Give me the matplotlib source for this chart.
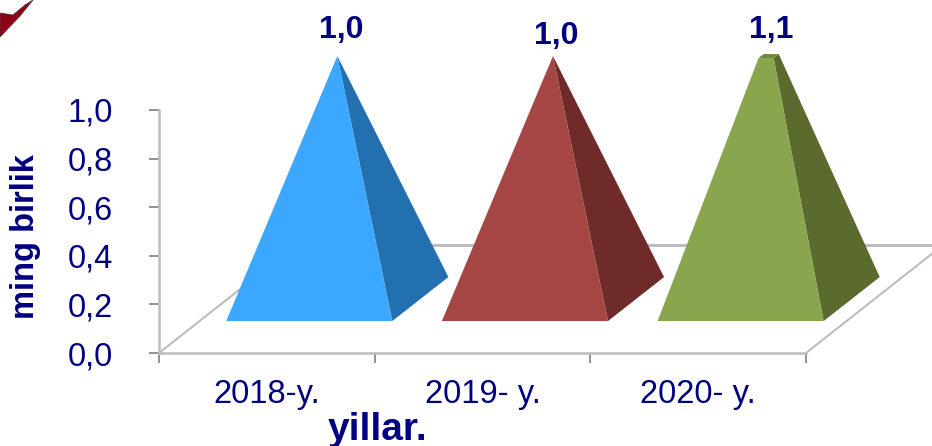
"""Pyramid column chart with an oblique floor, drawn from plain polygons."""

from __future__ import annotations

import matplotlib

matplotlib.use("Agg")

import matplotlib.pyplot as plt
from matplotlib.patches import Polygon


categories = ["2018-y.", "2019- y.", "2020- y."]
values = [1.0, 1.0, 1.1]
value_labels = ["1,0", "1,0", "1,1"]
y_ticks = [0.0, 0.2, 0.4, 0.6, 0.8, 1.0]
y_tick_labels = ["0,0", "0,2", "0,4", "0,6", "0,8", "1,0"]

front_colors = ["#3BA7FF", "#A54644", "#89A54E"]
side_colors = ["#2270B0", "#6E2B29", "#5A6B2D"]
top_colors = ["#2270B0", "#6E2B29", "#6F8A3C"]
label_nudges = [(2.5, -1.5), (2.5, -5.5), (2, -1.5)]

NAVY = "#000080"
Y_MAX = 1.0
FLOOR_DX, FLOOR_DY = 0.635, 0.444
PYR_DX, PYR_DY = 0.26, 0.181
PYR_W = 0.77
PYR_SHIFT = 0.0093

plt.rcParams["font.family"] = ["Liberation Sans", "DejaVu Sans"]

fig = plt.figure(figsize=(9.32, 4.46), dpi=100)
ax = fig.add_axes([159 / 932, 93 / 446, 647 / 932, 243 / 446])
ax.set_xlim(0, 3)
ax.set_ylim(0, Y_MAX)
ax.patch.set_visible(False)

for side in ("top", "right"):
    ax.spines[side].set_visible(False)
for side in ("left", "bottom"):
    ax.spines[side].set_color("#BDBDBD")
    ax.spines[side].set_linewidth(1.8)

ax.set_yticks(y_ticks, y_tick_labels)
ax.set_xticks([0, 1, 2, 3], ["", "", "", ""])
for i, name in enumerate(categories):
    ax.annotate(name, (i + 0.5, 0), xytext=(0, -30), textcoords="offset points",
                ha="center", va="center", fontsize=23.5, color=NAVY)
ax.tick_params(axis="y", length=7.5, width=1.2, color="#808080", labelsize=23.5,
               labelcolor=NAVY, pad=25.5)
ax.tick_params(axis="x", length=7.5, width=1.2, color="#808080")

# oblique floor
wall = "#BDBDBD"
floor_kw = dict(color=wall, linewidth=1.5, clip_on=False, zorder=1)
ax.plot([0, FLOOR_DX], [0, FLOOR_DY], **floor_kw)
ax.plot([3, 3 + FLOOR_DX], [0, FLOOR_DY], **floor_kw)
ax.plot([FLOOR_DX, 3 + FLOOR_DX], [FLOOR_DY, FLOOR_DY], color=wall, linewidth=2.2,
        clip_on=False, zorder=1)


def _lerp(p, q, t):
    return (p[0] + (q[0] - p[0]) * t, p[1] + (q[1] - p[1]) * t)


def draw_pyramid(pos, value, front, side, top):
    """Draw one pyramid, cut flat where it passes the axis maximum."""
    cx = pos + 0.5 + FLOOR_DX / 2 + PYR_SHIFT
    cy = FLOOR_DY / 2
    fl = (cx - PYR_DX / 2 - PYR_W / 2, cy - PYR_DY / 2)
    fr = (cx - PYR_DX / 2 + PYR_W / 2, cy - PYR_DY / 2)
    br = (cx + PYR_DX / 2 + PYR_W / 2, cy + PYR_DY / 2)
    bl = (cx + PYR_DX / 2 - PYR_W / 2, cy + PYR_DY / 2)
    apex = (cx, cy + value)
    t = min(1.0, Y_MAX / value)
    tfl, tfr, tbr, tbl = [_lerp(p, apex, t) for p in (fl, fr, br, bl)]
    patch_kw = dict(closed=True, clip_on=False, zorder=3, linewidth=0)
    ax.add_patch(Polygon([fr, br, tbr, tfr], facecolor=side, **patch_kw))
    ax.add_patch(Polygon([fl, fr, tfr, tfl], facecolor=front, **patch_kw))
    if t < 1.0:
        ax.add_patch(Polygon([tfl, tfr, tbr, tbl], facecolor=top, **patch_kw))
    return cx, cy + value * t


for i, value in enumerate(values):
    tip_x, tip_y = draw_pyramid(i, value, front_colors[i], side_colors[i], top_colors[i])
    nudge = label_nudges[i]
    ax.annotate(value_labels[i], (tip_x, tip_y), xytext=(nudge[0], 20 + nudge[1]),
                textcoords="offset points", ha="center", va="center", fontsize=23,
                fontweight="bold", color=NAVY, annotation_clip=False)

fig.text(378 / 932, 1 - 430 / 446, "yillar.", ha="center", va="center", fontsize=28,
         fontweight="bold", color=NAVY)
fig.text(26 / 932, 1 - 237 / 446, "ming birlik", ha="center", va="center", rotation=90,
         fontsize=23.5, fontweight="bold", color=NAVY)

# corner of the logo that is cut by the frame
corner = fig.add_axes([0, 0, 1, 1], zorder=5)
corner.set_xlim(0, 932)
corner.set_ylim(446, 0)
corner.axis("off")
corner.add_patch(Polygon([(0, 13), (13, 15), (25, 5), (33, 0), (20, 16), (0, 37)],
                         closed=True, facecolor="#8B0015", edgecolor="#5A3A3A", linewidth=0.6))

fig.savefig("out.png", dpi=100)
plt.close(fig)
